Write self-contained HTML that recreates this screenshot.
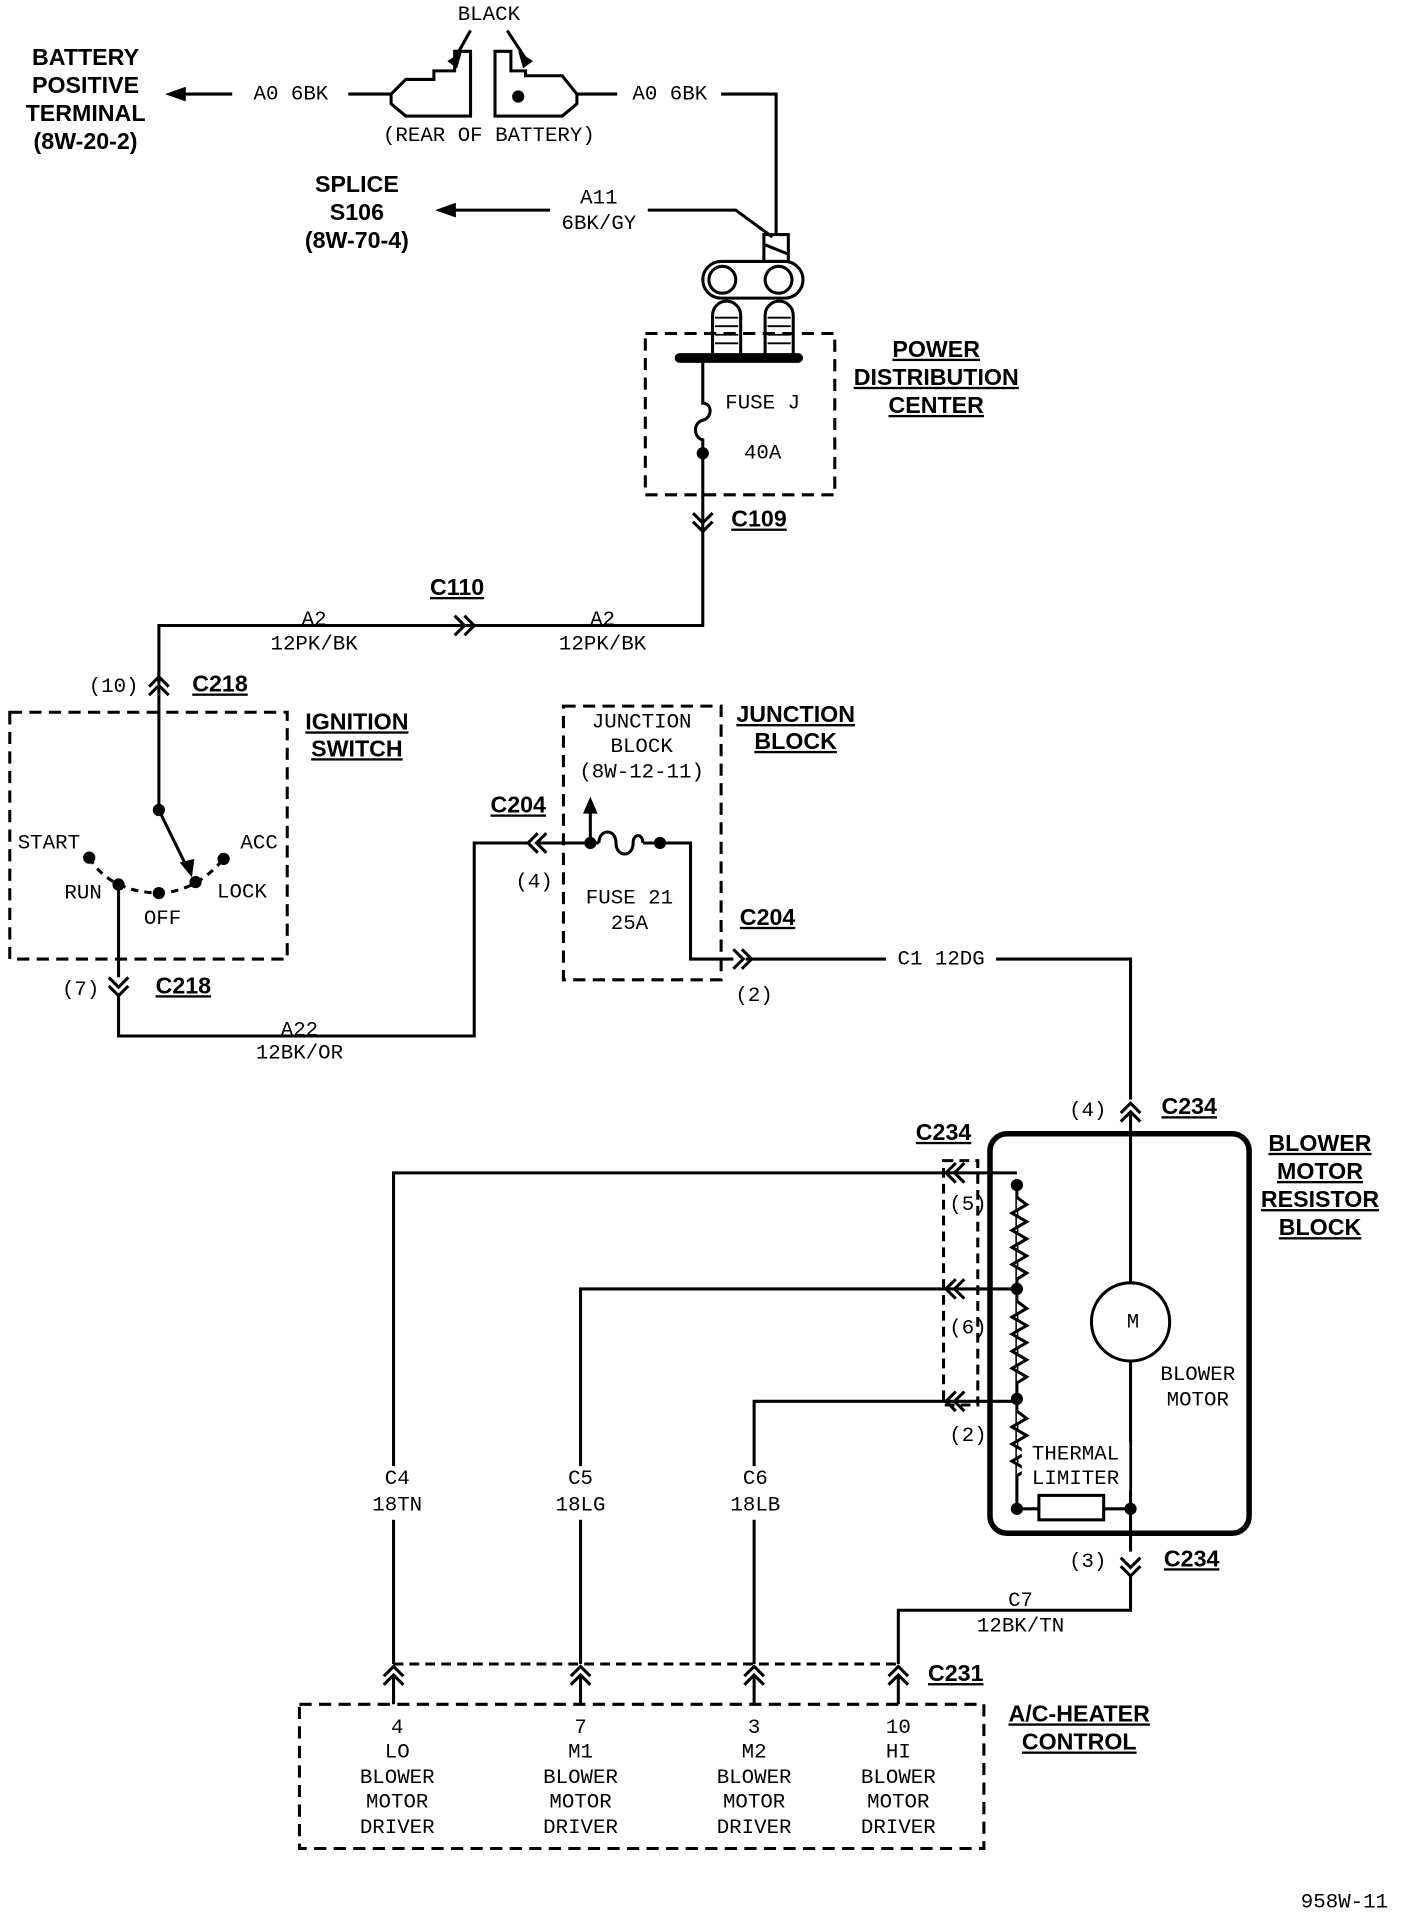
<!DOCTYPE html>
<html><head><style>
html,body{margin:0;padding:0;background:#fff}
svg{display:block}
text{font-family:"Liberation Mono","DejaVu Sans Mono",monospace;font-size:17px;fill:#000;text-anchor:middle;dominant-baseline:middle}
.b{font-family:"Liberation Sans",sans-serif;font-weight:bold;font-size:19px;text-decoration:underline}
.bn{font-family:"Liberation Sans",sans-serif;font-weight:bold;font-size:19px}
</style></head><body>
<svg width="1408" height="1912" viewBox="0 0 1152 1565" preserveAspectRatio="none" xmlns="http://www.w3.org/2000/svg">
<g fill="none" stroke="#000" stroke-width="2.5">
<line x1="140" y1="77" x2="190" y2="77"/>
<line x1="285" y1="77" x2="320" y2="77"/>
<path d="M320,77 L332,65 L355,65 L355,58 L372,58 L372,42 L385,42 L385,95 L332,95 L320,85 Z"/>
<path d="M472,77 L460,62 L430,62 L430,58 L418,58 L418,42 L405,42 L405,95 L460,95 L472,85 Z"/>
<line x1="472" y1="77" x2="505" y2="77"/>
<polyline points="590,77 635,77 635,192"/>
<line x1="385" y1="25" x2="372" y2="48"/>
<line x1="415" y1="25" x2="430" y2="48"/>
<line x1="370" y1="172" x2="450" y2="172"/>
<polyline points="530,172 602,172 632,194"/>
<rect x="625" y="192" width="20" height="22"/>
<line x1="625" y1="200" x2="645" y2="208"/>
<rect x="575" y="214" width="82" height="30" rx="15"/>
<circle cx="591" cy="229" r="11"/><circle cx="637" cy="229" r="11"/>
<path d="M583,290 V258 a11.5,11.5 0 0 1 23,0 V290"/>
<path d="M626,290 V258 a11.5,11.5 0 0 1 23,0 V290"/>
<path stroke-width="1.5" d="M585,260h19M585,267h19M585,274h19M585,281h19M628,260h19M628,267h19M628,274h19M628,281h19"/>
<line x1="556" y1="293" x2="653" y2="293" stroke-width="8" stroke-linecap="round"/>
<rect x="528" y="273" width="155" height="132" stroke-dasharray="10,6"/>
<path d="M575,297 V330 c8,0 8,12 0,14 c-8,2 -8,14 0,16 V440"/>
<path d="M567,420 l8,8 l8,-8 M567,427 l8,8 l8,-8"/>
<polyline points="575,440 575,512 130,512 130,560"/>
<path d="M372,504 l8,8 l-8,8 M380,504 l8,8 l-8,8"/>
<path d="M122,562 l8,-8 l8,8 M122,569 l8,-8 l8,8"/>
<line x1="130" y1="562" x2="130" y2="663"/>
<line x1="130" y1="663" x2="153" y2="710"/>
<rect x="8" y="583" width="227" height="202" stroke-dasharray="10,6"/>
<path d="M73,702 Q90,730 130,731 Q160,730 183,703" stroke-dasharray="6,5"/>
<polyline points="97,724 97,800"/>
<path d="M89,800 l8,8 l8,-8 M89,807 l8,8 l8,-8"/>
<polyline points="97,815 97,848 388,848 388,690 432,690"/>
<path d="M440,682 l-8,8 l8,8 M447,682 l-8,8 l8,8"/>
<rect x="461" y="578" width="129" height="224" stroke-dasharray="10,6"/>
<line x1="440" y1="690" x2="490" y2="690"/>
<line x1="483" y1="690" x2="483" y2="662"/>
<path d="M490,690 c0,-12 14,-12 14,0 c0,12 14,12 14,0 c0,-8 8,-8 8,0"/>
<polyline points="526,690 565,690 565,785 600,785"/>
<path d="M600,777 l8,8 l-8,8 M607,777 l8,8 l-8,8"/>
<line x1="610" y1="785" x2="725" y2="785"/>
<polyline points="815,785 925,785 925,900"/>
<path d="M917,911 l8,-8 l8,8 M917,918 l8,-8 l8,8"/>
<rect x="810" y="928" width="212" height="327" rx="14" stroke-width="4.5"/>
<line x1="925" y1="910" x2="925" y2="1050"/>
<circle cx="925" cy="1082" r="32"/>
<line x1="925" y1="1114" x2="925" y2="1270"/>
<line x1="832" y1="970" x2="832" y2="1235"/>
<path fill="#fff" d="M832,980 l8,6 l-12,7 l12,7 l-12,7 l12,7 l-12,7 l12,7 l-12,7 l12,7 l-8,5"/>
<path fill="#fff" d="M832,1065 l8,6 l-12,7 l12,7 l-12,7 l12,7 l-12,7 l12,7 l-12,7 l12,7 l-8,5"/>
<path fill="#fff" d="M832,1155 l8,6 l-12,7 l12,7 l-12,7 l12,7 l-12,7 l12,7 l-8,5"/>
<line x1="832" y1="1235" x2="850" y2="1235"/>
<rect x="850" y="1224" width="53" height="20"/>
<line x1="903" y1="1235" x2="925" y2="1235"/>
<rect x="772" y="950" width="28" height="200" stroke-dasharray="8,5"/>
<polyline points="832,960 322,960 322,1362"/>
<polyline points="832,1055 475,1055 475,1362"/>
<polyline points="832,1147 617,1147 617,1362"/>
<path d="M782,952 l-8,8 l8,8 M789,952 l-8,8 l8,8"/>
<path d="M782,1047 l-8,8 l8,8 M789,1047 l-8,8 l8,8"/>
<path d="M782,1139 l-8,8 l8,8 M789,1139 l-8,8 l8,8"/>
<path d="M917,1282 l8,8 l8,-8 M917,1275 l8,8 l8,-8"/>
<polyline points="925,1290 925,1318 735,1318 735,1362"/>
<line x1="322" y1="1362" x2="735" y2="1362" stroke-dasharray="8,5"/>
<path d="M314,1372 l8,-8 l8,8 M314,1379 l8,-8 l8,8"/>
<path d="M467,1372 l8,-8 l8,8 M467,1379 l8,-8 l8,8"/>
<path d="M609,1372 l8,-8 l8,8 M609,1379 l8,-8 l8,8"/>
<path d="M727,1372 l8,-8 l8,8 M727,1379 l8,-8 l8,8"/>
<path d="M322,1372V1395M475,1372V1395M617,1372V1395M735,1372V1395"/>
<rect x="245" y="1395" width="560" height="118" stroke-dasharray="10,6"/>
</g>
<g fill="#fff">
<rect x="298" y="1200" width="50" height="44"/>
<rect x="450" y="1200" width="50" height="44"/>
<rect x="593" y="1200" width="50" height="44"/>
<rect x="836" y="1180" width="88" height="40"/>
</g>
<g fill="#000">
<polygon points="135,77 152,71 152,83"/>
<polygon points="356,172 373,166 373,178"/>
<polygon points="366,50 378,42 374,56"/>
<polygon points="436,50 424,42 428,56"/>
<circle cx="424" cy="79" r="5"/>
<circle cx="575" cy="371" r="5"/>
<circle cx="130" cy="663" r="5"/>
<polygon points="157,718 147,706 159,703"/>
<circle cx="73" cy="702" r="5"/><circle cx="97" cy="724" r="5"/><circle cx="130" cy="731" r="5"/><circle cx="160" cy="722" r="5"/><circle cx="183" cy="703" r="5"/>
<polygon points="483,652 477,666 489,666"/>
<circle cx="483" cy="690" r="5"/><circle cx="540" cy="690" r="5"/>
<circle cx="832" cy="970" r="5"/><circle cx="832" cy="1055" r="5"/><circle cx="832" cy="1145" r="5"/><circle cx="832" cy="1235" r="5"/><circle cx="925" cy="1235" r="5"/>
</g>
<text class="bn" x="70" y="48">BATTERY</text>
<text class="bn" x="70" y="71">POSITIVE</text>
<text class="bn" x="70" y="94">TERMINAL</text>
<text class="bn" x="70" y="117">(8W-20-2)</text>
<text x="238" y="77">A0 6BK</text>
<text x="400" y="12">BLACK</text>
<text x="400" y="111">(REAR OF BATTERY)</text>
<text x="548" y="77">A0 6BK</text>
<text class="bn" x="292" y="152">SPLICE</text>
<text class="bn" x="292" y="175">S106</text>
<text class="bn" x="292" y="198">(8W-70-4)</text>
<text x="490" y="162">A11</text>
<text x="490" y="183">6BK/GY</text>
<text class="b" x="766" y="287">POWER</text>
<text class="b" x="766" y="310">DISTRIBUTION</text>
<text class="b" x="766" y="333">CENTER</text>
<text x="624" y="330">FUSE J</text>
<text x="624" y="371">40A</text>
<text class="b" x="621" y="426">C109</text>
<text class="b" x="374" y="482">C110</text>
<text x="257" y="507">A2</text><text x="257" y="527">12PK/BK</text>
<text x="493" y="507">A2</text><text x="493" y="527">12PK/BK</text>
<text x="93" y="562">(10)</text>
<text class="b" x="180" y="561">C218</text>
<text class="b" x="292" y="592">IGNITION</text>
<text class="b" x="292" y="614">SWITCH</text>
<text x="40" y="690">START</text>
<text x="212" y="690">ACC</text>
<text x="68" y="731">RUN</text>
<text x="198" y="730">LOCK</text>
<text x="133" y="752">OFF</text>
<text x="66" y="810">(7)</text>
<text class="b" x="150" y="808">C218</text>
<text x="245" y="843">A22</text><text x="245" y="862">12BK/OR</text>
<text class="b" x="424" y="660">C204</text>
<text x="437" y="722">(4)</text>
<text x="525" y="591">JUNCTION</text>
<text x="525" y="611">BLOCK</text>
<text x="525" y="632">(8W-12-11)</text>
<text class="b" x="651" y="586">JUNCTION</text>
<text class="b" x="651" y="608">BLOCK</text>
<text x="515" y="735">FUSE 21</text>
<text x="515" y="756">25A</text>
<text class="b" x="628" y="752">C204</text>
<text x="617" y="815">(2)</text>
<text x="770" y="785">C1 12DG</text>
<text x="890" y="909">(4)</text>
<text class="b" x="973" y="907">C234</text>
<text class="b" x="1080" y="937">BLOWER</text>
<text class="b" x="1080" y="960">MOTOR</text>
<text class="b" x="1080" y="983">RESISTOR</text>
<text class="b" x="1080" y="1006">BLOCK</text>
<text class="b" x="772" y="928">C234</text>
<text x="792" y="986">(5)</text>
<text x="792" y="1087">(6)</text>
<text x="792" y="1175">(2)</text>
<text x="927" y="1082">M</text>
<text x="980" y="1125">BLOWER</text>
<text x="980" y="1146">MOTOR</text>
<text x="880" y="1190">THERMAL</text>
<text x="880" y="1210">LIMITER</text>
<text x="325" y="1210">C4</text><text x="325" y="1232">18TN</text>
<text x="475" y="1210">C5</text><text x="475" y="1232">18LG</text>
<text x="618" y="1210">C6</text><text x="618" y="1232">18LB</text>
<text x="890" y="1278">(3)</text>
<text class="b" x="975" y="1277">C234</text>
<text x="835" y="1310">C7</text><text x="835" y="1331">12BK/TN</text>
<text class="b" x="782" y="1371">C231</text>
<text class="b" x="883" y="1404">A/C-HEATER</text>
<text class="b" x="883" y="1427">CONTROL</text>
<g>
<text x="325" y="1414">4</text><text x="325" y="1434">LO</text><text x="325" y="1455">BLOWER</text><text x="325" y="1475">MOTOR</text><text x="325" y="1496">DRIVER</text>
<text x="475" y="1414">7</text><text x="475" y="1434">M1</text><text x="475" y="1455">BLOWER</text><text x="475" y="1475">MOTOR</text><text x="475" y="1496">DRIVER</text>
<text x="617" y="1414">3</text><text x="617" y="1434">M2</text><text x="617" y="1455">BLOWER</text><text x="617" y="1475">MOTOR</text><text x="617" y="1496">DRIVER</text>
<text x="735" y="1414">10</text><text x="735" y="1434">HI</text><text x="735" y="1455">BLOWER</text><text x="735" y="1475">MOTOR</text><text x="735" y="1496">DRIVER</text>
</g>
<text x="1100" y="1557">958W-11</text>
</svg>
</body></html>
